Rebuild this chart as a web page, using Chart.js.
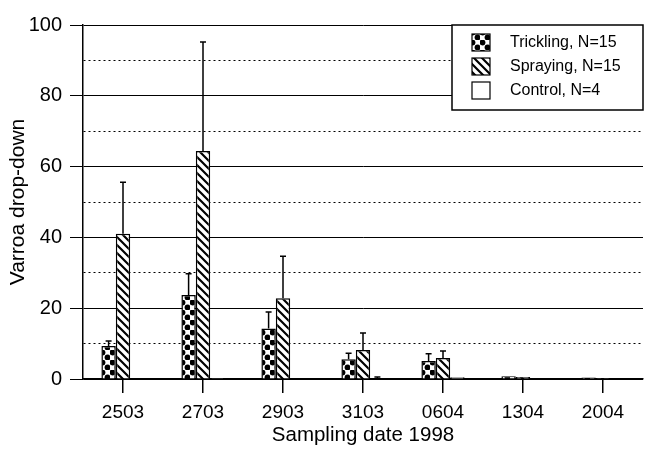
<!DOCTYPE html>
<html>
<head>
<meta charset="utf-8">
<title>Varroa drop-down</title>
<script src="https://cdn.jsdelivr.net/npm/chart.js"></script>
<style>
  body { margin: 0; background: #fff; }
  #wrap { width: 651px; height: 457px; }
</style>
</head>
<body>
<div id="wrap"><canvas id="grafico" width="651" height="457"></canvas></div>
<script>
// DATA
const categories = ['2503', '2703', '2903', '3103', '0604', '1304', '2004'];
const seriesNames = ['Trickling, N=15', 'Spraying, N=15', 'Control, N=4'];
const trickling = [9.3, 23.7, 14.3, 5.6, 5.1, 0.8, 0.4];
const tricklingErr = [1.4, 6.0, 4.6, 1.7, 2.0, 0, 0];
const spraying = [41.0, 64.4, 22.8, 8.2, 5.9, 0.6, 0.3];
const sprayingErr = [14.6, 30.8, 11.9, 4.8, 2.0, 0, 0];
const control = [0, 0.3, 0, 0.1, 0.5, 0.2, 0.1];
const controlErr = [0, 0, 0, 0.5, 0, 0, 0];
const yTicks = [0, 20, 40, 60, 80, 100];

const fonte = 'Liberation Sans, Arial, Helvetica, sans-serif';

// pattern with black dots
function dotPattern() {
  const c = document.createElement('canvas');
  c.width = 10; c.height = 10;
  const g = c.getContext('2d');
  g.fillStyle = '#fff';
  g.fillRect(0, 0, 10, 10);
  g.fillStyle = '#000';
  [[2.5, 2.5], [7.5, 7.5]].forEach(p => {
    g.beginPath();
    g.arc(p[0], p[1], 2.9, 0, Math.PI * 2);
    g.fill();
  });
  return g.createPattern(c, 'repeat');
}

// pattern with diagonal lines (top-left to bottom-right)
function hatchPattern() {
  const c = document.createElement('canvas');
  c.width = 8; c.height = 8;
  const g = c.getContext('2d');
  g.fillStyle = '#fff';
  g.fillRect(0, 0, 8, 8);
  g.strokeStyle = '#000';
  g.lineWidth = 2.2;
  g.beginPath();
  g.moveTo(-2, -2); g.lineTo(10, 10);
  g.moveTo(-2, 6); g.lineTo(2, 10);
  g.moveTo(6, -2); g.lineTo(10, 2);
  g.stroke();
  return g.createPattern(c, 'repeat');
}

const fills = [dotPattern(), hatchPattern(), '#fff'];
const errs = [tricklingErr, sprayingErr, controlErr];

// upper error bars
const errorBars = {
  id: 'errorBars',
  afterDatasetsDraw(chart) {
    const ctx = chart.ctx;
    const y = chart.scales.y;
    ctx.save();
    ctx.strokeStyle = '#000';
    ctx.lineWidth = 1.5;
    chart.data.datasets.forEach((ds, i) => {
      const meta = chart.getDatasetMeta(i);
      meta.data.forEach((bar, j) => {
        const e = errs[i][j];
        if (!e) return;
        const top = y.getPixelForValue(ds.data[j] + e);
        ctx.beginPath();
        ctx.moveTo(bar.x, bar.y);
        ctx.lineTo(bar.x, top);
        ctx.moveTo(bar.x - 3, top);
        ctx.lineTo(bar.x + 3, top);
        ctx.stroke();
      });
    });
    ctx.restore();
  }
};

// boxed legend in the top right corner
const boxLegend = {
  id: 'boxLegend',
  afterDraw(chart) {
    const ctx = chart.ctx;
    const area = chart.chartArea;
    const x0 = 452, y0 = area.top, x1 = area.right, y1 = 110;
    ctx.save();
    ctx.fillStyle = '#fff';
    ctx.fillRect(x0, y0, x1 - x0, y1 - y0);
    ctx.strokeStyle = '#000';
    ctx.lineWidth = 1.5;
    ctx.strokeRect(x0, y0, x1 - x0, y1 - y0);
    ctx.font = '16px ' + fonte;
    ctx.textBaseline = 'middle';
    chart.data.datasets.forEach((ds, i) => {
      const ry = 34 + i * 24;
      ctx.fillStyle = ds.backgroundColor;
      ctx.fillRect(472, ry, 18, 17);
      ctx.lineWidth = 1.2;
      ctx.strokeRect(472, ry, 18, 17);
      ctx.fillStyle = '#000';
      ctx.fillText(ds.label, 510, ry + 9);
    });
    ctx.restore();
  }
};

const ctx = document.getElementById('grafico').getContext('2d');
new Chart(ctx, {
  type: 'bar',
  data: {
    labels: categories,
    datasets: [
      { label: seriesNames[0], data: trickling, backgroundColor: fills[0] },
      { label: seriesNames[1], data: spraying, backgroundColor: fills[1] },
      { label: seriesNames[2], data: control, backgroundColor: fills[2] }
    ].map(d => Object.assign(d, {
      borderColor: '#000',
      borderWidth: 1.5,
      categoryPercentage: 0.54,
      barPercentage: 1
    }))
  },
  options: {
    responsive: false,
    animation: false,
    layout: { padding: { left: 0, right: 8, top: 25, bottom: 0 } },
    plugins: {
      legend: { display: false },
      tooltip: { enabled: false }
    },
    scales: {
      x: {
        afterFit: s => { s.height = 78; },
        grid: {
          offset: false,
          drawOnChartArea: false,
          color: '#000',
          tickLength: 14,
          lineWidth: 1.5
        },
        border: { display: true, color: '#000', width: 1.5 },
        ticks: { color: '#000', padding: 8, font: { family: fonte, size: 19 } },
        title: {
          display: true,
          text: 'Sampling date 1998',
          color: '#000',
          font: { family: fonte, size: 20.5 },
          padding: { top: 0, bottom: 9 }
        }
      },
      y: {
        min: 0,
        max: 100,
        afterFit: s => { s.width = 83; },
        afterBuildTicks: s => {
          // major ticks every 20, dotted lines in between
          const t = [];
          for (let v = 0; v <= 100; v += 10) t.push({ value: v });
          s.ticks = t;
        },
        grid: {
          color: '#000',
          lineWidth: 1,
          tickLength: 13,
          tickColor: c => (c.tick && c.tick.value % 20 === 0) ? '#000' : 'rgba(0,0,0,0)'
        },
        border: {
          display: true,
          color: '#000',
          width: 1.5,
          dash: c => (c.tick && c.tick.value % 20 !== 0) ? [2, 3] : []
        },
        ticks: {
          color: '#000',
          padding: 8,
          font: { family: fonte, size: 20 },
          callback: v => yTicks.includes(v) ? v : ''
        },
        title: {
          display: true,
          text: 'Varroa drop-down',
          color: '#000',
          font: { family: fonte, size: 21 },
          padding: { top: 6, bottom: 0 }
        }
      }
    }
  },
  plugins: [errorBars, boxLegend]
});
</script>
</body>
</html>
